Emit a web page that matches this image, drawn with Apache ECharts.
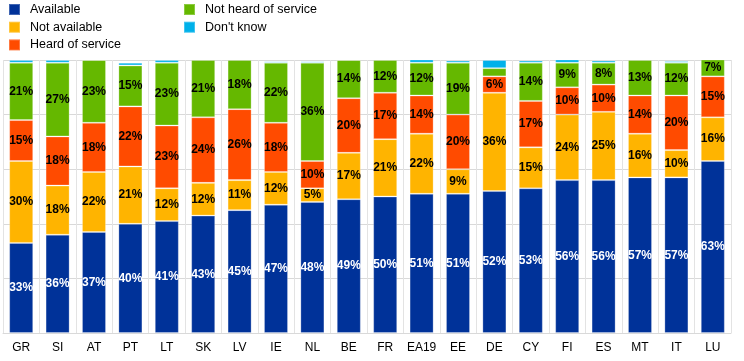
<!DOCTYPE html>
<html><head><meta charset="utf-8">
<script src="https://cdn.jsdelivr.net/npm/echarts@6/dist/echarts.min.js"></script>
<style>html,body{margin:0;padding:0;background:#fff}#c{width:744px;height:361px}</style>
</head><body><div id="c"></div>
<script>
const categories = ['GR','SI','AT','PT','LT','SK','LV','IE','NL','BE','FR','EA19','EE','DE','CY','FI','ES','MT','IT','LU'];
const available    = [33,36,37,40,41,43,45,47,48,49,50,51,51,52,53,56,56,57,57,63];
const notAvailable = [30,18,22,21,12,12,11,12, 5,17,21,22, 9,36,15,24,25,16,10,16];
const heard        = [15,18,18,22,23,24,26,18,10,20,17,14,20, 6,17,10,10,14,20,15];
const notHeard     = [21,27,23,15,23,21,18,22,36,14,12,12,19, 3,14, 9, 8,13,12, 7];
const dontKnow     = [ 1, 1, 0, 1, 1, 0.5,0.5,0.5,0.5,0, 0.8,1.2,0.8,3, 0.8,1.2,0.8,0.6,0.6,0];
const seriesNames = ['Available','Not available','Heard of service','Not heard of service',"Don't know"];
const colors = ['#003299','#FFB400','#FF4B00','#65B800','#00B1EA'];
const dataSets = [available, notAvailable, heard, notHeard, dontKnow];

const font = '"Liberation Sans", Arial, sans-serif';
const legendCommon = {orient: 'vertical', top: 3, padding: 0, itemWidth: 11, itemHeight: 11, itemGap: 4.7, icon: 'rect',
  textStyle: {fontFamily: font, fontSize: 12.5, lineHeight: 12, color: '#000', padding:[0,0,0,5]}};
const chart = echarts.init(document.getElementById('c'));
chart.setOption({
  animation: false,
  backgroundColor: '#fff',
  color: colors,
  legend: [
    Object.assign({data: seriesNames.slice(0,3), left: 8}, legendCommon),
    Object.assign({data: seriesNames.slice(3), left: 183}, legendCommon)
  ],
  grid: {left: 3, right: 13, top: 60, bottom: 28, containLabel: false},
  xAxis: {
    type: 'category', data: categories,
    axisLine: {show: true, lineStyle: {color: '#d9d9d9'}},
    axisTick: {show: false},
    splitLine: {show: true, interval: 0, lineStyle: {color: '#e3e3e3'}},
    axisLabel: {fontFamily: font, fontSize: 12, color: '#000', margin: 9, interval: 0}
  },
  yAxis: {
    type: 'value', min: 0, max: 100, interval: 20,
    axisLabel: {show: false}, axisLine: {show: false}, axisTick: {show: false},
    splitLine: {show: true, lineStyle: {color: '#d9d9d9'}}
  },
  series: dataSets.map((d, i) => ({
    name: seriesNames[i], type: 'bar', stack: 'a', data: d, barWidth: '66%',
    itemStyle: {color: colors[i], borderColor: 'rgba(255,255,255,0.25)', borderWidth: 1},
    label: {
      show: i < 4, position: 'inside',
      fontFamily: font, fontSize: 12, fontWeight: 'bold',
      color: i === 0 ? '#fff' : '#000',
      formatter: p => p.value >= 5 ? p.value + '%' : ''
    }
  }))
});
</script></body></html>
